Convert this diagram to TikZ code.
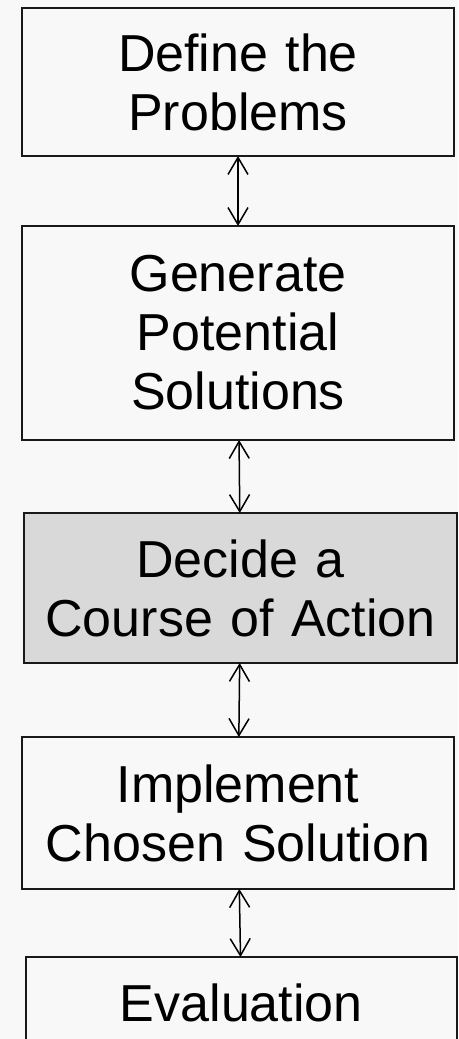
\documentclass[tikz,border=0pt]{standalone}
\usepackage{fontspec}
\setmainfont{Liberation Sans}
\usetikzlibrary{positioning, arrows.meta}
\definecolor{pagebg}{HTML}{F8F8F8}
\definecolor{hlgray}{HTML}{D9D9D9}
\tikzset{
    stage/.style={rectangle, draw=black!90, fill=pagebg, line width=2pt, minimum width=432pt, text width=425pt, align=center, inner sep=0pt, outer sep=0pt, font=\fontsize{52}{59}\selectfont},
    hstage/.style={stage, fill=hlgray},
    link/.style={{Straight Barb[length=17pt,width=20pt]}-{Straight Barb[length=17pt,width=20pt]}, line width=1.5pt},
}
\begin{document}
\begin{tikzpicture}
        \useasboundingbox (0,0) rectangle (458pt,-1039pt);
        \fill[pagebg] (0,0) rectangle (458pt,-1039pt);
        \clip (0,0) rectangle (458pt,-1039pt);
        \node [stage, minimum height=148pt] (define) at (238pt,-82pt) {Define the\\Problems};
        \node [stage, minimum height=214pt] (generate) [below=70pt of define] {Generate\\Potential\\Solutions};
        \node [hstage, minimum width=433pt, minimum height=150pt, xshift=2.5pt] (decide) [below=73pt of generate] {Decide a\\Course of Action};
        \node [stage, minimum height=152pt, xshift=-2.5pt] (implement) [below=74pt of decide] {Implement\\Chosen Solution};
        \node [stage, minimum width=431pt, minimum height=92pt, xshift=3.3pt] (evaluate) [below=68pt of implement] {Evaluation};
        \draw[link] (define) -- (generate);
        \draw[link] (generate) -- (decide);
        \draw[link] (decide) -- (implement);
        \draw[link] (implement) -- (evaluate);
    \end{tikzpicture}
\end{document}
